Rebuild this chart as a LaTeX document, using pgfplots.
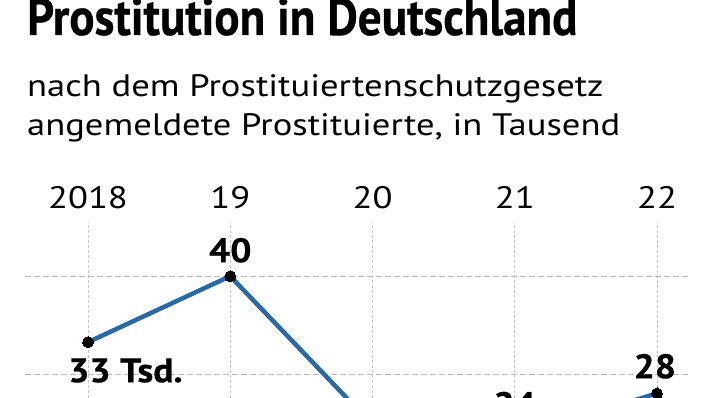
\documentclass[border=0pt]{standalone}
\usepackage{fontspec}
\usepackage{pgfplots}
\pgfplotsset{compat=1.18}
\setmainfont{PT Sans}
\newfontfamily\titlefont[FakeStretch=0.905,FakeBold=0.6]{PT Sans}
\newfontfamily\subfont[FakeStretch=1.18]{PT Sans}
\newfontfamily\labfont[FakeStretch=1.1,FakeBold=0.6]{PT Sans}
\definecolor{lineblue}{RGB}{40,106,165}
\definecolor{gridgray}{RGB}{185,185,185}
\begin{document}
\begin{tikzpicture}[x=1pt,y=1pt]
\useasboundingbox (0,0) rectangle (704,398);
\clip (0,0) rectangle (704,398);
\fill[white] (0,0) rectangle (704,398);
\node[anchor=base west, inner sep=0pt] at (27,363) {\titlefont\bfseries\fontsize{52}{52}\selectfont Prostitution in Deutschland};
\node[anchor=base west, inner sep=0pt] at (27,301) {\subfont\fontsize{31}{31}\selectfont nach dem Prostituiertenschutzgesetz};
\node[anchor=base west, inner sep=0pt] at (27,262) {\subfont\fontsize{31}{31}\selectfont angemeldete Prostituierte, in Tausend};
\begin{axis}[
  at={(25pt,-75.2pt)}, anchor=south west,
  scale only axis, width=665pt, height=251.2pt,
  xmin=2017.557, xmax=2022.232, ymin=20, ymax=45.5,
  xtick={2018,2019,2020,2021,2022}, ytick={30,40},
  xticklabels={}, yticklabels={},
  grid=major,
  x grid style={gridgray!80, line width=1pt, dash pattern=on 3pt off 2pt},
  y grid style={gridgray, line width=1pt, dash pattern=on 6pt off 3pt},
  axis line style={draw=none}, tick style={draw=none},
  clip=false,
]
\addplot[lineblue, line width=4.5pt, mark=*, mark size=5.5pt, mark options={black, fill=black, line width=0pt}]
  coordinates {(2018,33.3) (2019,40.0) (2020,24.9) (2021,23.7) (2022,28.1)};
\foreach \yr/\lab in {2018/2018,2019/19,2020/20,2021/21,2022/22}{
  \edef\tmp{\noexpand\node[anchor=base, inner sep=0pt] at (axis cs:\yr,46.9) {\noexpand\subfont\noexpand\fontsize{31}{31}\noexpand\selectfont \lab};}
  \tmp
}
\node[anchor=base, inner sep=0pt] at (axis cs:2019,41.42) {\labfont\bfseries\fontsize{34}{34}\selectfont 40};
\node[anchor=base west, inner sep=0pt] at (axis cs:2017.86,29.24) {\labfont\bfseries\fontsize{34}{34}\selectfont 33 Tsd.};
\node[anchor=base, inner sep=0pt] at (axis cs:2021.985,29.64) {\labfont\bfseries\fontsize{34}{34}\selectfont 28};
\node[anchor=base, inner sep=0pt] at (axis cs:2021,25.8) {\labfont\bfseries\fontsize{34}{34}\selectfont 24};
\node[anchor=north, inner sep=0pt] at (axis cs:2020,23.9) {\labfont\bfseries\fontsize{34}{34}\selectfont 25};
\end{axis}
\end{tikzpicture}
\end{document}
